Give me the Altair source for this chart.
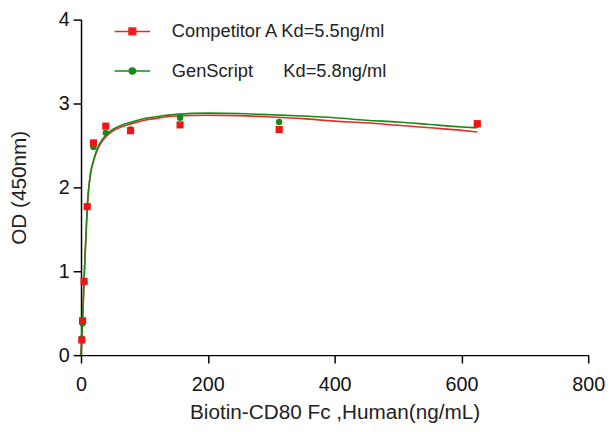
import altair as alt
import pandas as pd

# Measured data points
conc = [625, 312.5, 156.25, 78.125, 39.06, 19.53, 9.77, 4.88, 2.44, 1.22]
od_comp = [2.76, 2.69, 2.745, 2.675, 2.73, 2.53, 1.77, 0.88, 0.41, 0.18]
od_gen = [2.75, 2.78, 2.83, 2.69, 2.65, 2.48, 1.77, 0.87, 0.38, 0.2]

# Fitted curves
curve_x = [0, 1, 2, 3, 4, 5, 6, 7, 8, 10, 12, 15, 20, 25, 30, 40, 50, 60, 80,
           100, 125, 150, 200, 250, 300, 350, 400, 450, 500, 550, 600, 625]
curve_comp = [0, 0.16, 0.35, 0.55, 0.75, 0.95, 1.13, 1.3, 1.47, 1.78, 1.97, 2.16,
              2.32, 2.43, 2.51, 2.61, 2.67, 2.71, 2.76, 2.80, 2.83, 2.85, 2.86,
              2.855, 2.84, 2.82, 2.79, 2.77, 2.74, 2.71, 2.68, 2.66]
curve_gen = [0, 0.15, 0.33, 0.52, 0.72, 0.92, 1.1, 1.28, 1.45, 1.78, 1.98, 2.17,
             2.33, 2.45, 2.53, 2.63, 2.69, 2.73, 2.78, 2.82, 2.85, 2.87, 2.885,
             2.88, 2.865, 2.85, 2.83, 2.80, 2.78, 2.75, 2.72, 2.71]

NB = "\u00a0"
series = ["Competitor A Kd=5.5ng/ml", "GenScript" + NB * 6 + "Kd=5.8ng/ml"]
colors = ["#f01414", "#138a13"]
line_colors = ["#e82a2a", "#188a18"]

pts = pd.DataFrame(
    {"x": conc * 2, "y": od_comp + od_gen,
     "s": [series[0]] * len(conc) + [series[1]] * len(conc),
     "o": [2] * len(conc) + [1] * len(conc)}
)
crv = pd.DataFrame(
    {"x": curve_x * 2, "y": curve_comp + curve_gen,
     "s": [series[0]] * len(curve_x) + [series[1]] * len(curve_x),
     "o": [1] * len(curve_x) + [2] * len(curve_x)}
)

xsc = alt.Scale(domain=[0, 800], nice=False)
ysc = alt.Scale(domain=[0, 4], nice=False)
xax = alt.Axis(values=[0, 200, 400, 600, 800], title="Biotin-CD80 Fc ,Human(ng/mL)",
               grid=False, labelFlush=False, format="d")
yax = alt.Axis(values=[0, 1, 2, 3, 4], title="OD (450nm)", grid=False, format="d")

lines = alt.Chart(crv).mark_line(strokeWidth=1.6, interpolate="monotone").encode(
    x=alt.X("x:Q", scale=xsc, axis=xax),
    y=alt.Y("y:Q", scale=ysc, axis=yax),
    color=alt.Color("s:N", scale=alt.Scale(domain=series, range=line_colors), legend=None),
    detail="s:N",
    order="o:Q",
)

gen_pts = alt.Chart(pts).transform_filter(alt.datum.o == 1).mark_point(
    filled=True, size=42, opacity=1, shape="circle", color=colors[1]
).encode(x=alt.X("x:Q", scale=xsc), y=alt.Y("y:Q", scale=ysc))

comp_pts = alt.Chart(pts).transform_filter(alt.datum.o == 2).mark_point(
    filled=True, size=52, opacity=1, shape="square", color=colors[0]
).encode(x=alt.X("x:Q", scale=xsc), y=alt.Y("y:Q", scale=ysc))

sq_path = "M-1,0H1M-0.19,-0.19H0.19V0.19H-0.19Z"
ci_path = "M-1,0H1M0.17,0A0.17,0.17,0,1,1,-0.17,0A0.17,0.17,0,1,1,0.17,0Z"

leg = alt.Legend(title=None, orient="none", legendX=33, legendY=-7,
                 symbolSize=1296, symbolStrokeWidth=1.5, symbolOpacity=1,
                 labelFontSize=18.5, labelFont="Liberation Sans",
                 labelColor="#222", labelOffset=21, rowPadding=11,
                 padding=0, labelLimit=400)

legend_layer = alt.Chart(pts).mark_point(filled=True, size=0, opacity=1).encode(
    x=alt.X("x:Q", scale=xsc),
    y=alt.Y("y:Q", scale=ysc),
    fill=alt.Fill("s:N", scale=alt.Scale(domain=series, range=colors), legend=leg),
    stroke=alt.Stroke("s:N", scale=alt.Scale(domain=series, range=line_colors), legend=leg),
    shape=alt.Shape("s:N", scale=alt.Scale(domain=series, range=[sq_path, ci_path]),
                    legend=leg),
)

chart = alt.layer(legend_layer, lines, gen_pts, comp_pts).properties(
    width=514, height=340,
    autosize=alt.AutoSizeParams(type="none"),
    padding={"left": 74, "top": 9, "right": 17, "bottom": 66},
).configure_view(stroke=None).configure_axis(
    domainColor="#000", domainWidth=1.5, tickColor="#000", tickWidth=1.5,
    labelFont="Liberation Sans", titleFont="Liberation Sans",
    labelFontSize=20, titleFontSize=21, labelColor="#111", titleColor="#222",
    titleFontWeight="normal", tickSize=8,
).configure_axisX(labelPadding=12, titlePadding=7).configure_axisY(
    labelPadding=4, titlePadding=29
)

chart.save("out.html", embed_options={"renderer": "svg", "actions": False})
